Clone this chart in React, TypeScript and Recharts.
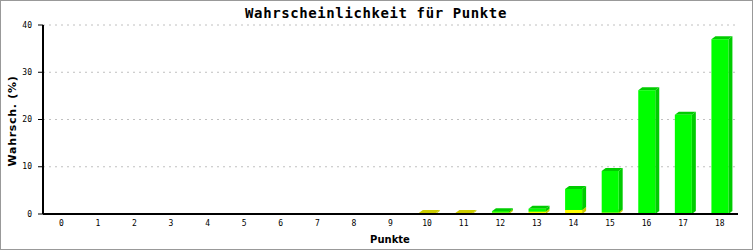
import { BarChart, Bar, XAxis, YAxis, CartesianGrid } from "recharts";

const categories = ["0", "1", "2", "3", "4", "5", "6", "7", "8", "9", "10", "11", "12", "13", "14", "15", "16", "17", "18"];
const yellowValues = [0, 0, 0, 0, 0, 0, 0, 0, 0, 0, 0.2, 0.2, 0.3, 0.5, 0.85, 0.3, 0, 0, 0];
const greenValues = [0, 0, 0, 0, 0, 0, 0, 0, 0, 0, 0, 0, 0.3, 0.6, 4.45, 8.8, 26.2, 21.0, 37.0];
const yTicks = [0, 10, 20, 30, 40];

const data = categories.map((c, i) => ({ name: c, yellow: yellowValues[i], green: greenValues[i] }));

const Box3D = (props: any) => {
  const { x, y, width, height, fill, side } = props;
  if (!height || height <= 0) return null;
  const dx = 4;
  const dy = 3;
  return (
    <g>
      <polygon
        points={`${x + width},${y + height} ${x + width},${y} ${x + width + dx},${y - dy} ${x + width + dx},${y + height - dy}`}
        fill={side}
      />
      <polygon
        points={`${x},${y} ${x + dx},${y - dy} ${x + width + dx},${y - dy} ${x + width},${y}`}
        fill={side}
      />
      <rect x={x} y={y} width={width} height={height} fill={fill} />
    </g>
  );
};

const XTick = (props: any) => {
  const { x, y, payload } = props;
  return (
    <text x={x} y={y + 9} textAnchor="middle" dominantBaseline="central" fontSize={8} fontFamily="DejaVu Sans Mono" fill="#000">
      {payload.value}
    </text>
  );
};

const YTick = (props: any) => {
  const { x, y, payload } = props;
  return (
    <text x={x} y={y} textAnchor="end" dominantBaseline="central" fontSize={8} fontFamily="DejaVu Sans Mono" fill="#000">
      {payload.value}
    </text>
  );
};

export default function App() {
  return (
    <div
      style={{
        position: "absolute",
        left: 0,
        top: 0,
        width: 753,
        height: 250,
        border: "1px solid #999",
        boxSizing: "border-box",
        background: "#fff",
      }}
    >
      <BarChart
        width={751}
        height={248}
        data={data}
        margin={{ top: 24, right: 14, bottom: 0, left: 0 }}
        barSize={17}
      >
        <CartesianGrid vertical={false} stroke="#c0c0c0" strokeDasharray="2 4" />
        <XAxis
          dataKey="name"
          height={35}
          tickLine={false}
          tickSize={0}
          tickMargin={0}
          interval={0}
          axisLine={{ stroke: "#000", strokeWidth: 2 }}
          tick={<XTick />}
        />
        <YAxis
          width={42}
          domain={[0, 40]}
          ticks={yTicks}
          tickSize={5}
          tickMargin={6}
          tickLine={{ stroke: "#000" }}
          axisLine={{ stroke: "#000", strokeWidth: 2 }}
          tick={<YTick />}
        />
        <YAxis
          yAxisId="r"
          orientation="right"
          width={0}
          domain={[0, 40]}
          tick={false}
          tickLine={false}
          axisLine={{ stroke: "#000", strokeWidth: 2 }}
        />
        <Bar
          dataKey="yellow"
          stackId="a"
          fill="#ffff00"
          isAnimationActive={false}
          shape={(p: any) => <Box3D {...p} side="#cccc00" />}
        />
        <Bar
          dataKey="green"
          stackId="a"
          fill="#00ff00"
          isAnimationActive={false}
          shape={(p: any) => <Box3D {...p} side="#00cc00" />}
        />
      </BarChart>
      <svg
        width={751}
        height={248}
        style={{ position: "absolute", left: 0, top: 0, pointerEvents: "none" }}
      >
        <text x={375} y={12} textAnchor="middle" dominantBaseline="central" fontSize={14} fontWeight="bold" fontFamily="DejaVu Sans Mono" letterSpacing={0.6}>
          Wahrscheinlichkeit für Punkte
        </text>
        <text x={389} y={238} textAnchor="middle" dominantBaseline="central" fontSize={10} fontWeight="bold" fontFamily="DejaVu Sans">
          Punkte
        </text>
        <text
          x={11}
          y={120}
          textAnchor="middle"
          dominantBaseline="central"
          fontSize={11}
          fontWeight="bold"
          fontFamily="DejaVu Sans"
          letterSpacing={0.7}
          transform="rotate(-90 11 120)"
        >
          Wahrsch. (%)
        </text>
      </svg>
    </div>
  );
}
